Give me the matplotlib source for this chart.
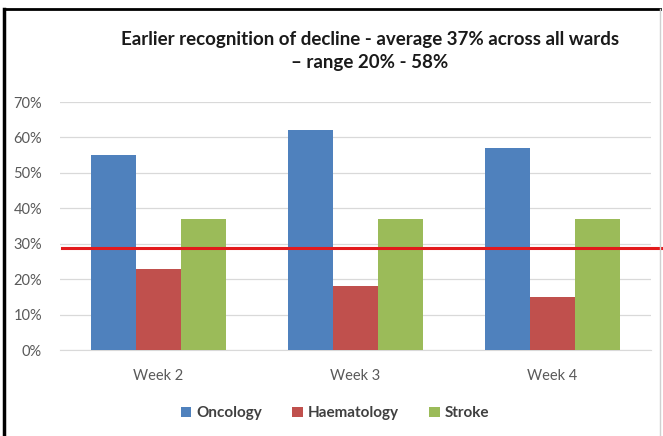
import matplotlib
matplotlib.use("Agg")
import matplotlib.pyplot as plt
import numpy as np
from matplotlib.lines import Line2D
import matplotlib.transforms as mtransforms

weeks = ["Week 2", "Week 3", "Week 4"]
series = ["Oncology", "Haematology", "Stroke"]
oncology = [0.55, 0.62, 0.57]
haematology = [0.23, 0.18, 0.15]
stroke = [0.37, 0.37, 0.37]
reference_level = 0.288
yticks = [0, 0.1, 0.2, 0.3, 0.4, 0.5, 0.6, 0.7]
ytick_labels = ["0%", "10%", "20%", "30%", "40%", "50%", "60%", "70%"]
title = "Earlier recognition of decline - average 37% across all wards\n\u2013 range 20% - 58%"

colors = ["#4F81BD", "#C0504D", "#9BBB59"]

plt.rcParams['font.family'] = ['Lato', 'DejaVu Sans']

fig = plt.figure(figsize=(6.63, 4.36), dpi=100)
ax = fig.add_axes([60/663, 86/436, (651-60)/663, (350-102)/436])

x = np.arange(len(weeks))
w = 0.228
for i, (vals, name) in enumerate(zip([oncology, haematology, stroke], series)):
    ax.bar(x + (i - 1) * w, vals, width=w, color=colors[i], label=name, zorder=3)

ax.set_xlim(-0.5, 2.5)
ax.set_ylim(0, 0.7)
ax.set_yticks(yticks)
ax.set_yticklabels(ytick_labels, color="#595959", fontsize=10.5)
ax.set_xticks(x)
ax.set_xticklabels(weeks, color="#595959", fontsize=10.5)
ax.tick_params(axis="y", length=0, pad=13)
ax.tick_params(axis="x", length=0, pad=14)
ax.grid(axis="y", color="#D9D9D9", linewidth=0.9, zorder=0)
for s in ["top", "right", "left"]:
    ax.spines[s].set_visible(False)
ax.spines["bottom"].set_color("#D9D9D9")

# red reference line extending past plot area
trans = mtransforms.blended_transform_factory(fig.transFigure, ax.transData)
ax.plot([62/663, 1.0], [reference_level, reference_level], color="#E31A1C",
        linewidth=2.2, transform=trans, clip_on=False, zorder=5)

fig.text(0.558, 0.93, title, ha="center", va="top", fontsize=13.5,
         fontweight="bold", color="#1a1a1a", linespacing=1.45)

leg = fig.legend(loc="center", bbox_to_anchor=(0.505, 0.052), ncol=3, frameon=False,
                 handlelength=0.7, handleheight=0.7, handletextpad=0.3,
                 columnspacing=2.0, prop={"size": 11, "weight": "bold"})
for t in leg.get_texts():
    t.set_color("#404040")

# border (top and left dark, right faint)
fig.add_artist(Line2D([4/663, 660/663], [1 - 9/436, 1 - 9/436], transform=fig.transFigure,
                      color="#000000", linewidth=2.0))
fig.add_artist(Line2D([4/663, 4/663], [0, 1 - 9/436], transform=fig.transFigure,
                      color="#000000", linewidth=2.5))
fig.add_artist(Line2D([660/663, 660/663], [0, 1 - 9/436], transform=fig.transFigure,
                      color="#D0D0D0", linewidth=1.0))

fig.savefig("out.png", dpi=100)
